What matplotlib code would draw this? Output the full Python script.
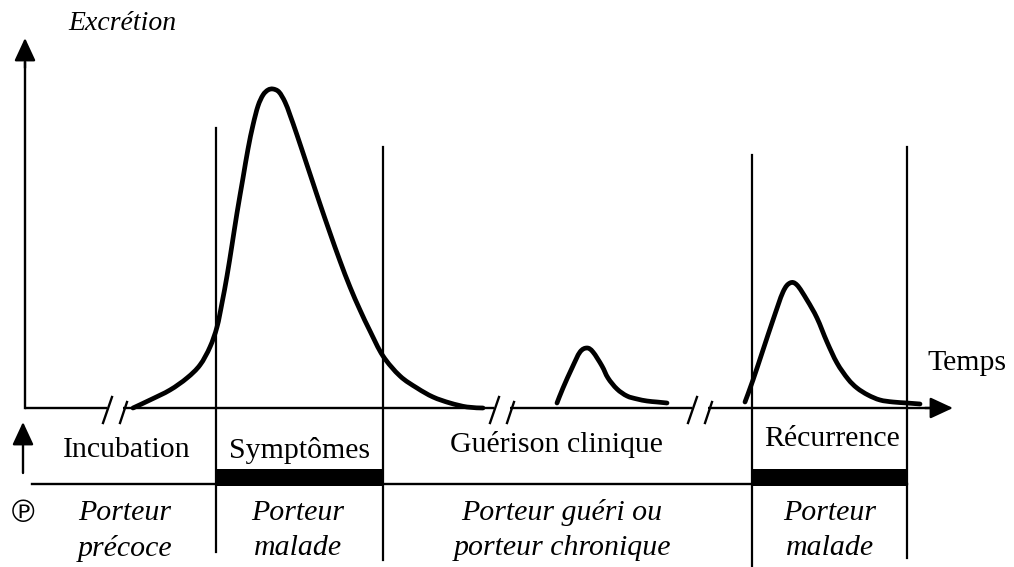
import matplotlib
matplotlib.use("Agg")
import matplotlib.pyplot as plt
from matplotlib.path import Path
from matplotlib.patches import PathPatch

# ---- data (time in arbitrary units, excretion in arbitrary units; 0 = baseline) ----
main_t = [133, 150, 170, 187, 200, 210, 217, 222, 227, 232, 237, 243, 248, 253, 258, 263, 268, 273,
          279, 285, 290, 297, 307, 313, 320, 330, 340, 350, 360, 370, 383, 400, 417, 433, 450, 467, 483]
main_e = [0, 8, 18, 30, 43, 61, 81, 105, 132, 163, 195, 230, 259, 283, 302, 313, 318, 319,
          316, 306, 293, 273, 243, 225, 204, 175, 147, 121, 98, 77, 52, 32, 20, 11, 5, 1, 0]

small_t = [557, 563, 572, 580, 587, 593, 602, 608, 617, 627, 637, 647, 657, 667]
small_e = [5, 20, 40, 56, 60, 56, 42, 30, 19, 12, 9, 7, 6, 5]

rec_t = [745, 753, 763, 773, 783, 790, 797, 807, 817, 827, 837, 848, 857, 868, 880, 893, 907, 920]
rec_e = [6, 28, 58, 88, 116, 125, 123, 108, 90, 66, 45, 29, 20, 13, 8, 6, 5, 4]

phase_bounds = [216, 383, 752, 907]
phase_tops = [280, 261, 253, 261]
phase_bottoms = [-144, -152, -159, -150]

break_pos = [115, 502, 700]

phase_labels = ["Incubation", "Symptômes", "Guérison clinique", "Récurrence"]
phase_label_x = [127, 300, 556, 832]
phase_label_y = [-42, -42, -37, -31]

carrier_labels = ["Porteur\nprécoce", "Porteur\nmalade", "Porteur guéri ou\nporteur chronique", "Porteur\nmalade"]
carrier_x = [125, 298, 562, 830]

sick_bars = [(216, 383), (752, 907)]

# ---- figure ----
fig = plt.figure(figsize=(10.14, 5.67), dpi=100)
ax = fig.add_axes([0, 0, 1, 1])
ax.set_xlim(0, 1014)
ax.set_ylim(-159, 408)
ax.axis("off")

K = "black"
serif = ["Liberation Serif", "DejaVu Serif"]


def smooth_path(xs, ys):
    """Bezier path passing through the read points (Catmull-Rom handles)."""
    pts = list(zip(xs, ys))
    verts = [pts[0]]
    codes = [Path.MOVETO]
    n = len(pts)
    for i in range(n - 1):
        p0 = pts[i - 1] if i > 0 else pts[i]
        p1 = pts[i]
        p2 = pts[i + 1]
        p3 = pts[i + 2] if i + 2 < n else pts[i + 1]
        c1 = (p1[0] + (p2[0] - p0[0]) / 6.0, p1[1] + (p2[1] - p0[1]) / 6.0)
        c2 = (p2[0] - (p3[0] - p1[0]) / 6.0, p2[1] - (p3[1] - p1[1]) / 6.0)
        verts += [c1, c2, p2]
        codes += [Path.CURVE4] * 3
    return Path(verts, codes)


# baseline with breaks
x_start, x_end = 25, 935
segs = []
cur = x_start
for b in break_pos:
    segs.append((cur, b - 8))
    cur = b + 8
segs.append((cur, x_end))
for a, b in segs:
    ax.plot([a, b], [0, 0], color=K, lw=1.7, solid_capstyle="butt")
for b in break_pos:
    ax.plot([b - 3, b - 12], [11, -15], color=K, lw=1.7)
    ax.plot([b + 12, b + 5], [6, -15], color=K, lw=1.7)

arrow_kw = dict(arrowstyle="-|>,head_length=1.4,head_width=0.65", color=K, lw=1.7,
                shrinkA=0, shrinkB=0)
# time arrow
ax.annotate("", xy=(953, 0), xytext=(925, 0), arrowprops=arrow_kw)
# excretion axis
ax.plot([25, 25], [0, 345], color=K, lw=1.7)
ax.annotate("", xy=(25, 370), xytext=(25, 340), arrowprops=arrow_kw)
# small lower arrow
ax.annotate("", xy=(23, -14), xytext=(23, -65), arrowprops=arrow_kw)

# phase boundaries
for x, t, b in zip(phase_bounds, phase_tops, phase_bottoms):
    ax.plot([x, x], [b, t], color=K, lw=1.6)

# lower separator line & sick bars
ax.plot([32, 907], [-76, -76], color=K, lw=1.7)
for a, b in sick_bars:
    ax.fill_between([a, b], -78, -61, color=K, lw=0)

# curves
for t, e in [(main_t, main_e), (small_t, small_e), (rec_t, rec_e)]:
    ax.add_patch(PathPatch(smooth_path(t, e), facecolor="none", edgecolor=K, lw=3.4,
                           capstyle="round", joinstyle="round"))

# texts
fs = 21.5
ax.text(122, 385, "Excrétion", fontsize=20, style="italic", family=serif, ha="center", va="center")
ax.text(967, 45, "Temps", fontsize=fs, family=serif, ha="center", va="center")
for lab, x, y in zip(phase_labels, phase_label_x, phase_label_y):
    ax.text(x, y, lab, fontsize=fs, family=serif, ha="center", va="center")
for lab, x in zip(carrier_labels, carrier_x):
    l1, l2 = lab.split("\n")
    ax.text(x, -105, l1, fontsize=fs, style="italic", family=serif, ha="center", va="center")
    ax.text(x, -140, l2, fontsize=fs, style="italic", family=serif, ha="center", va="center")
ax.text(23, -105, "\u2117", fontsize=22, family=["DejaVu Sans"], ha="center", va="center")

fig.savefig("out.png", dpi=100)
